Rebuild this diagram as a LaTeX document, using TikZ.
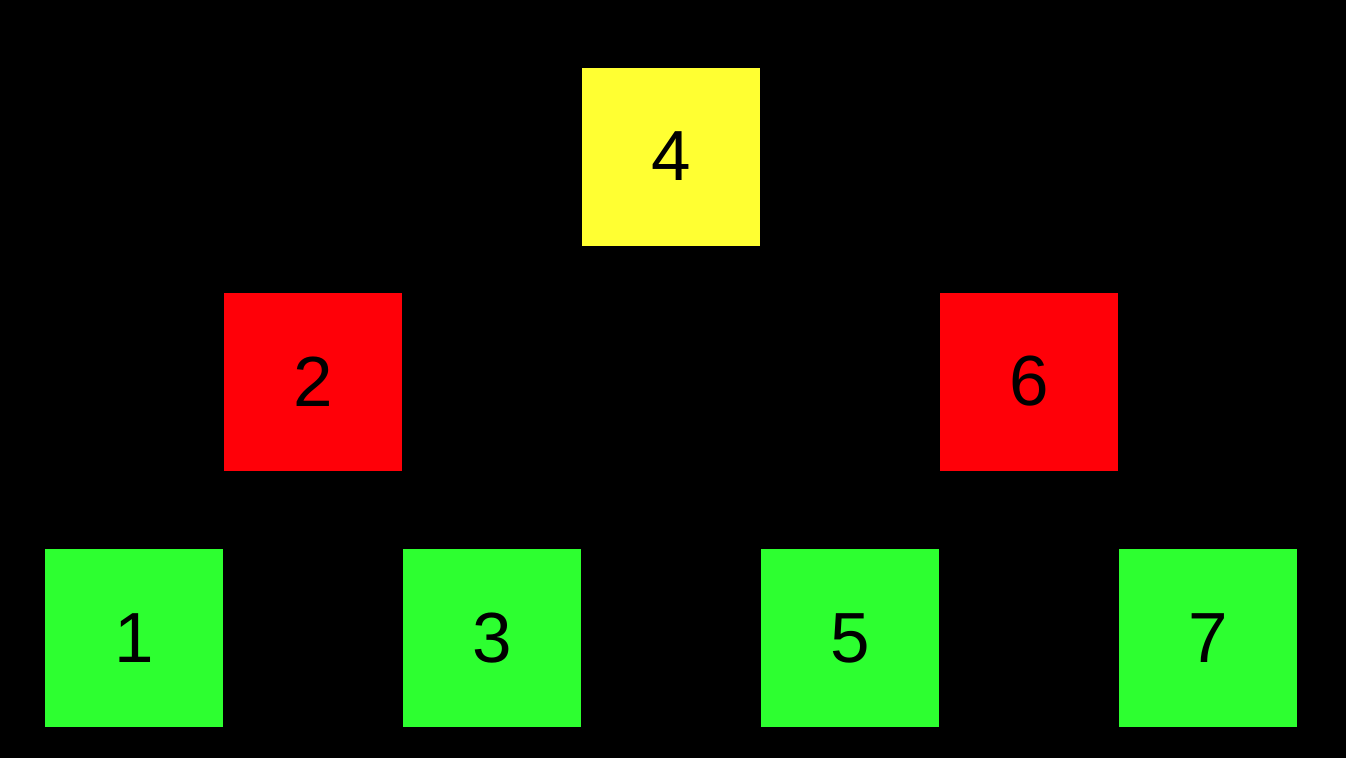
\documentclass[tikz,border=0pt]{standalone}
\usepackage{fontspec}
\setmainfont{Liberation Sans}
\usetikzlibrary{positioning,calc}
\definecolor{leafgreen}{RGB}{45,255,48}
\definecolor{innerred}{RGB}{255,0,8}
\definecolor{rootyellow}{RGB}{255,255,50}
\def \boxSize {178pt}
\def \colGap {180pt}
\tikzset{
	block/.style= {draw=none, rectangle, align=center, minimum width=\boxSize, minimum height=\boxSize, inner sep=0pt, outer sep=0pt, text=black, font=\fontsize{71}{71}\selectfont},
	leafblock/.style= {block, fill=leafgreen},
	innerblock/.style= {block, fill=innerred},
	rootblock/.style= {block, fill=rootyellow}
}
\begin{document}
\begin{tikzpicture}
	\fill [black] (0,0) rectangle (1346pt,-758pt);
	\useasboundingbox (0,0) rectangle (1346pt,-758pt);

%%%%%%%%%%%%%%%%%%%%% Nodes %%%%%%%%%%%%%%%%%%%%%
	\node [leafblock] (N1) at (134pt,-638pt) {1};
	\node [leafblock, right =\colGap of N1] (N3) {3};
	\node [leafblock, right =\colGap of N3] (N5) {5};
	\node [leafblock, right =\colGap of N5] (N7) {7};

	\node [innerblock] (N2) at ($(N1)!0.5!(N3)+(0,256.5pt)$) {2};
	\node [innerblock] (N6) at ($(N5)!0.5!(N7)+(0,256.5pt)$) {6};

	\node [rootblock] (N4) at ($(N2)!0.5!(N6)+(0,225pt)$) {4};

\end{tikzpicture}
\end{document}
